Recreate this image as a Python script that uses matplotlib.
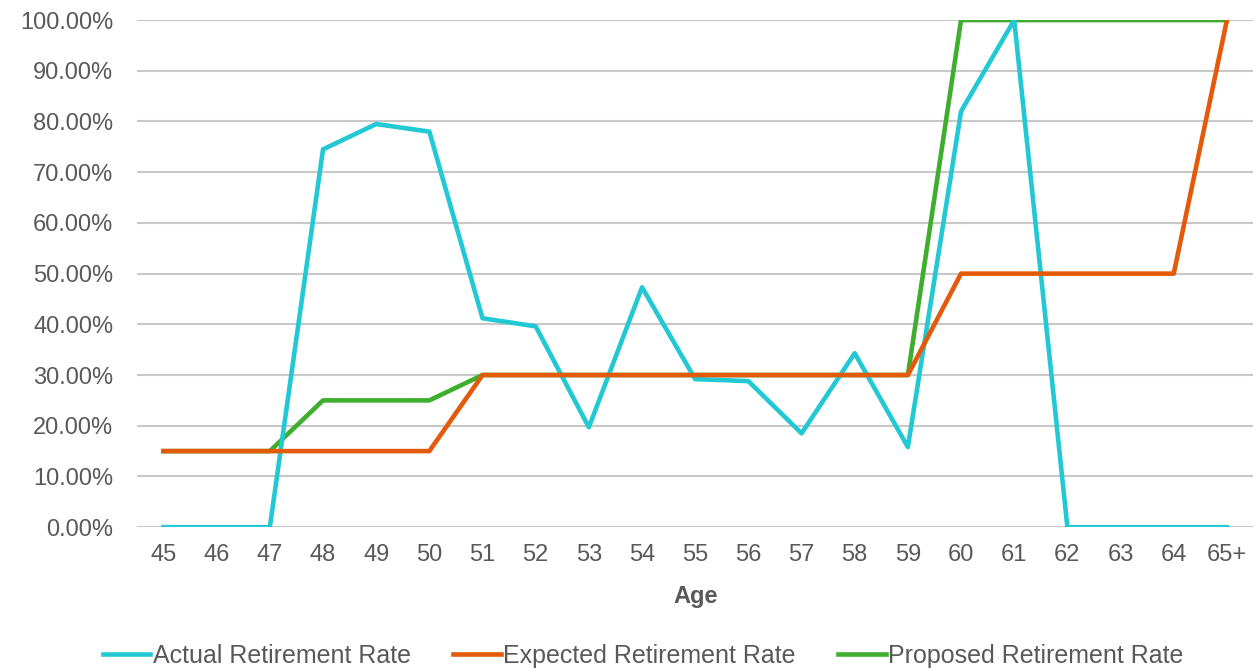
import matplotlib.pyplot as plt
from matplotlib.ticker import PercentFormatter

ages = ['45', '46', '47', '48', '49', '50', '51', '52', '53', '54', '55',
        '56', '57', '58', '59', '60', '61', '62', '63', '64', '65+']
actual = [0, 0, 0, 74.5, 79.5, 78.0, 41.2, 39.6, 19.7, 47.3, 29.2,
          28.8, 18.5, 34.3, 15.8, 82.0, 100, 0, 0, 0, 0]
expected = [15, 15, 15, 15, 15, 15, 30, 30, 30, 30, 30,
            30, 30, 30, 30, 50, 50, 50, 50, 50, 100]
proposed = [15, 15, 15, 25, 25, 25, 30, 30, 30, 30, 30,
            30, 30, 30, 30, 100, 100, 100, 100, 100, 100]

plt.rcParams['font.family'] = ['Liberation Sans', 'DejaVu Sans']

fig = plt.figure(figsize=(12.56, 6.69), dpi=100)
ax = fig.add_axes([0.109, 0.212, 0.889, 0.758])

xs = list(range(len(ages)))
ax.plot(xs, actual, color='#22c8d4', linewidth=3.3, label='Actual Retirement Rate', zorder=3)
ax.plot(xs, expected, color='#e35a0a', linewidth=3.3, label='Expected Retirement Rate', zorder=4)
ax.plot(xs, proposed, color='#3fae2f', linewidth=3.3, label='Proposed Retirement Rate', zorder=2)

ax.set_xlim(-0.5, 20.5)
ax.set_ylim(0, 100)
ax.set_yticks(range(0, 101, 10))
ax.yaxis.set_major_formatter(PercentFormatter(decimals=2))
ax.set_xticks(xs)
ax.set_xticklabels(ages)
ax.tick_params(length=0, labelsize=17, labelcolor='#595959')
ax.tick_params(axis='x', pad=12)
ax.tick_params(axis='y', pad=17)
ax.grid(axis='y', color='#c8c8c8', linewidth=1.5)
ax.set_axisbelow(True)
for s in ax.spines.values():
    s.set_visible(False)

ax.set_xlabel('Age', fontsize=17, fontweight='bold', color='#595959', labelpad=14)

fig.legend(loc='center', bbox_to_anchor=(0.512, 0.02), ncol=3, frameon=False,
           fontsize=18, handlelength=1.9, handletextpad=0.1, columnspacing=1.7,
           labelcolor='#595959')

fig.savefig('out.png', dpi=100)
